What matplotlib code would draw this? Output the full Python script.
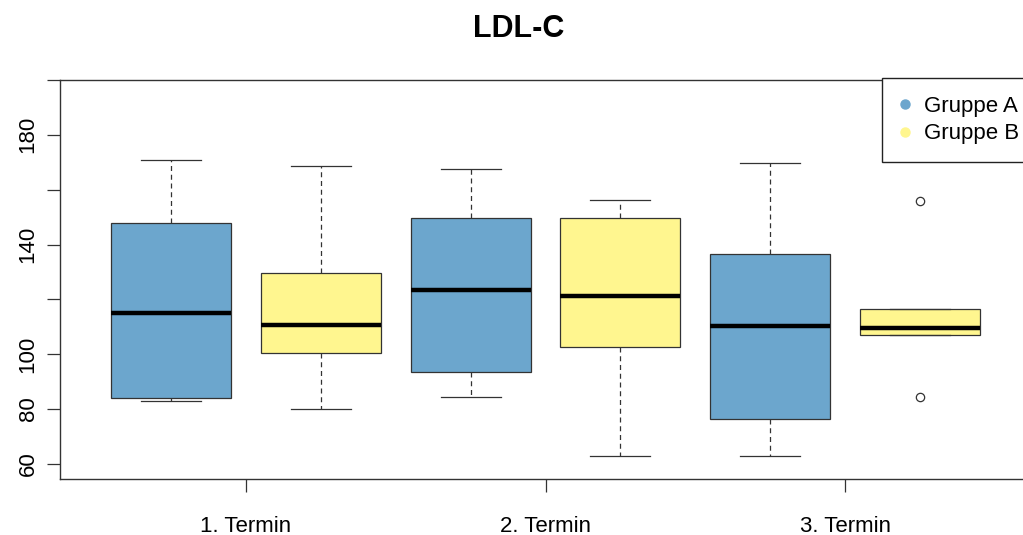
import matplotlib
matplotlib.use("Agg")
import matplotlib.pyplot as plt
from matplotlib.lines import Line2D

plt.rcParams['font.family'] = ['Liberation Sans', 'DejaVu Sans']

# Daten
termine = ["1. Termin", "2. Termin", "3. Termin"]
gruppen = ["Gruppe A", "Gruppe B"]
farben = ["#6CA6CD", "#FFF68F"]

# Reihenfolge: 1A, 1B, 2A, 2B, 3A, 3B
whis_lo = [83, 80, 84.5, 63, 63, 107]
q1 = [84, 100.5, 93.7, 102.7, 76.3, 107]
median = [115, 110.8, 123.5, 121.3, 110.2, 109.7]
q3 = [148, 129.7, 149.5, 149.5, 136.6, 116.5]
whis_hi = [171, 168.7, 167.6, 156.4, 169.7, 116.5]
ausreisser = [[], [], [], [], [], [155.7, 84.5]]

y_ticks = [60, 80, 100, 120, 140, 160, 180, 200]
y_labels = ["60", "80", "100", "", "140", "", "180", ""]

stats = []
for i in range(len(median)):
    stats.append({
        "whislo": whis_lo[i], "q1": q1[i], "med": median[i],
        "q3": q3[i], "whishi": whis_hi[i], "fliers": ausreisser[i],
    })

fig = plt.figure(figsize=(10.23, 5.35), dpi=100)
ax = fig.add_axes([60 / 1023, 56 / 535, 971 / 1023, 399 / 535])

positions = list(range(1, len(median) + 1))
bp = ax.bxp(
    stats, positions=positions, widths=0.8, patch_artist=True,
    boxprops=dict(edgecolor="#333333", linewidth=0.9),
    medianprops=dict(color="black", linewidth=3.2, solid_capstyle="butt"),
    whiskerprops=dict(color="#333333", linewidth=0.9, linestyle=(0, (4, 3))),
    capprops=dict(color="#333333", linewidth=0.9),
    flierprops=dict(marker="o", markerfacecolor="white", markeredgecolor="#333333",
                    markersize=6, markeredgewidth=0.9),
    capwidths=0.4,
)
for i, box in enumerate(bp["boxes"]):
    box.set_facecolor(farben[i % 2])

ax.set_xlim(0.26, 6.74)
ax.set_ylim(54.5, 200)

ax.set_xticks([1.5, 3.5, 5.5])
ax.set_xticklabels(termine)
ax.set_yticks(y_ticks)
ax.set_yticklabels(y_labels, rotation=90, va="center")
ax.tick_params(axis="x", length=9.4, width=0.9, pad=17, labelsize=16, color="#333333")
ax.tick_params(axis="y", length=9.4, width=0.9, pad=6, labelsize=16, color="#333333")
for s in ax.spines.values():
    s.set_color("#333333")
    s.set_linewidth(1.0)

handles = [Line2D([], [], linestyle="none", marker="o", markersize=6.5,
                  markerfacecolor=f, markeredgecolor=f) for f in farben]
leg = ax.legend(handles, gruppen, loc="upper right", bbox_to_anchor=(1.006, 1.005),
                borderaxespad=0, fontsize=16, fancybox=False, framealpha=1,
                handletextpad=0.6, handlelength=0.5, borderpad=0.8,
                labelspacing=0.3)
leg.get_frame().set_edgecolor("#222222")
leg.get_frame().set_linewidth(1.0)

fig.text(519 / 1023, 1 - 29 / 535, "LDL-C", ha="center", va="center",
         fontsize=22, fontweight="bold")

fig.savefig("out.png", dpi=100)
